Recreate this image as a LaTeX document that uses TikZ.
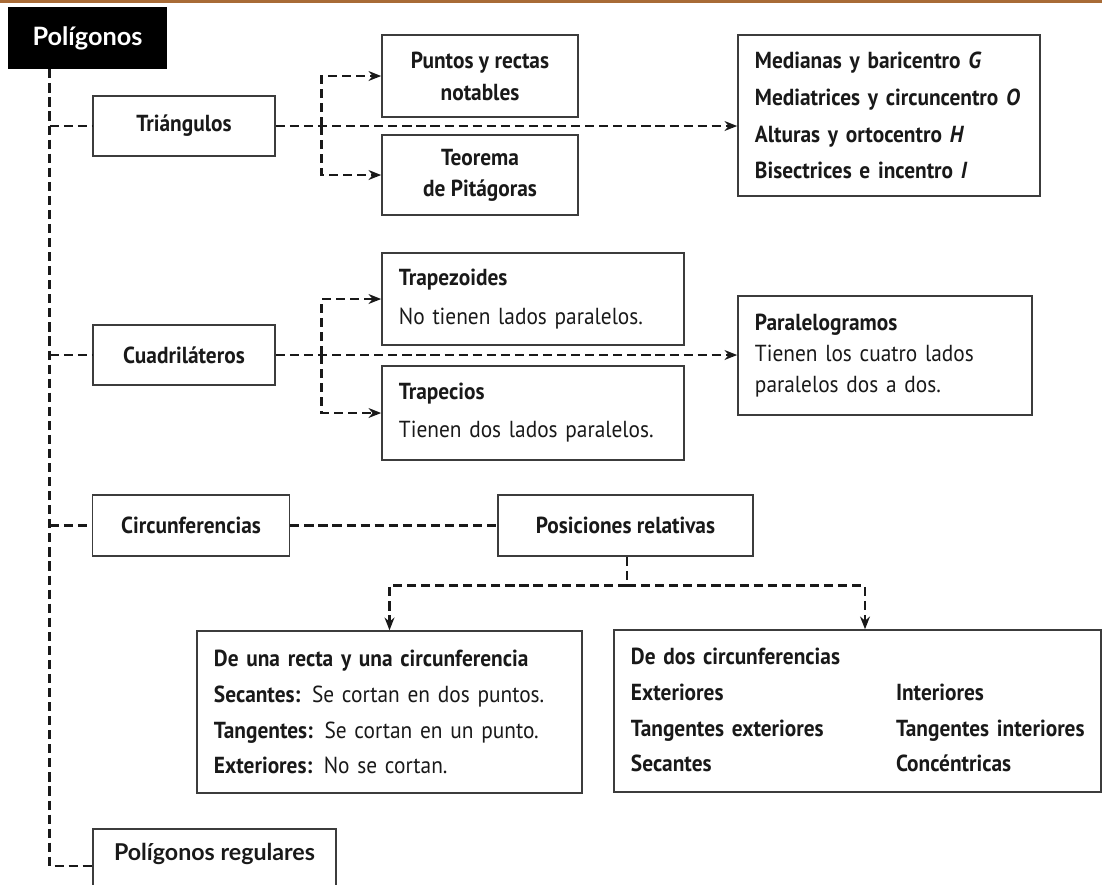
\documentclass[tikz,border=0pt]{standalone}
\usepackage{fontspec}
\setmainfont{PT Sans}[FakeStretch=0.92]
\newfontfamily\latofont{Lato}
\usetikzlibrary{arrows.meta,calc}
\definecolor{banda}{RGB}{168,107,54}
\definecolor{borde}{RGB}{60,60,60}
\definecolor{texto}{RGB}{25,25,25}
\newcommand{\letra}[1]{\fontsize{16.5}{#1}\selectfont}

\begin{document}
\begin{tikzpicture}[x=0.025cm, y=-0.025cm,
  caja/.style={draw=borde, line width=1.1pt, fill=white, text=texto, inner sep=0pt, align=center, font=\letra{20}\bfseries},
  bloque/.style={caja, minimum width=4.55cm, minimum height=1.5cm},
  cajatexto/.style={caja, align=left, inner xsep=0.425cm},
  titulo/.style={fill=black, text=white, inner sep=0pt, minimum width=3.975cm, minimum height=1.55cm, font=\latofont\bfseries\fontsize{18}{20}\selectfont},
  linea/.style={draw=black!90, line width=2pt, dash pattern=on 6.5pt off 3.5pt},
  flecha/.style={linea, -{Stealth[length=9pt,width=7pt]}}]
\fill[white] (0,0) rectangle (1102,884);
\useasboundingbox (0,0) rectangle (1102,884);
\fill[banda] (0,0) rectangle (1102,3);

\node[titulo] at (87.5,38) (poli) {Polígonos};

% triangulos
\node[bloque] at (184,126) (tri) {Triángulos};
\node[caja, font=\letra{22.7}\bfseries, minimum width=4.9cm, minimum height=2.05cm] at (480,76) (puntos) {Puntos y rectas\\notables};
\node[caja, font=\letra{22}\bfseries, minimum width=4.9cm, minimum height=2cm] at (480,175) (teorema) {Teorema\\de Pitágoras};
\node[cajatexto, text width=6.7cm, minimum height=4.025cm, font=\letra{26.2}\bfseries] at (889,115.5) (medianas) {Medianas y baricentro \textit{G}\\Mediatrices y circuncentro \textit{O}\\Alturas y ortocentro \textit{H}\\Bisectrices e incentro \textit{I}};

% cuadrilateros
\node[bloque] at (184,355) (cuad) {Cuadriláteros};
\node[cajatexto, text width=6.7cm, minimum height=2.3cm, font=\letra{27.6}] at (533,299) (trapezoides) {\textbf{Trapezoides}\\No tienen lados paralelos.};
\node[cajatexto, text width=6.7cm, minimum height=2.35cm, font=\letra{27}] at (533,413) (trapecios) {\textbf{Trapecios}\\Tienen dos lados paralelos.};
\node[cajatexto, text width=6.5cm, minimum height=2.975cm, font=\letra{22.3}] at (885,355.5) (paral) {\textbf{Paralelogramos}\\Tienen los cuatro lados\\paralelos dos a dos.};

% circunferencias
\node[caja, minimum width=4.925cm, minimum height=1.525cm] at (191,525.5) (circ) {Circunferencias};
\node[caja, minimum width=6.375cm, minimum height=1.525cm] at (625.5,525.5) (posic) {Posiciones relativas};
\node[cajatexto, text width=8.775cm, minimum height=4.05cm, font=\letra{25.5}] at (389.5,712) (recta) {\textbf{De una recta y una circunferencia}\\\textbf{Secantes:} Se cortan en dos puntos.\\\textbf{Tangentes:} Se cortan en un punto.\\\textbf{Exteriores:} No se cortan.};
\node[cajatexto, text width=11.325cm, minimum height=4.05cm, font=\letra{25.5}\bfseries] at (857.5,711) (dos) {\begin{tabular}{@{}p{6.625cm}@{}l@{}}
\multicolumn{2}{@{}l@{}}{De dos circunferencias}\\
Exteriores & Interiores\\
Tangentes exteriores & Tangentes interiores\\
Secantes & Concéntricas
\end{tabular}};

\node[caja, anchor=north, font=\latofont\bfseries\fontsize{16.5}{20}\selectfont, minimum width=6.075cm, text height=0.8cm, text depth=1.3cm] at (214.5,828) (regulares) {Polígonos regulares};

% conectores
\coordinate (tronco) at ($(poli.south west)+(42,0)$);
\draw[linea] (tronco) |- ($(regulares.north west)+(0,38)$);
\draw[linea] (tronco |- tri.west) -- (tri.west);
\draw[linea] (tronco |- cuad.west) -- (cuad.west);
\draw[linea] (tronco |- circ.west) -- (circ.west);

\coordinate (ramaT) at ($(tri.east)+(46,0)$);
\draw[flecha] (tri.east) -- (tri.east -| medianas.west);
\draw[flecha] (ramaT) |- (puntos.west);
\draw[flecha] (ramaT) |- (teorema.west);

\coordinate (ramaC) at ($(cuad.east)+(46,0)$);
\draw[flecha] (cuad.east) -- (cuad.east -| paral.west);
\draw[flecha] (ramaC) |- (trapezoides.west);
\draw[flecha] (ramaC) |- (trapecios.west);

\draw[linea] (circ.east) -- (posic.west);
\draw[linea] ($(posic.south)+(1.5,0)$) -- ++(0,29) coordinate (ramaP);
\draw[flecha] (ramaP) -| (recta.north);
\draw[flecha] (ramaP) -| ($(dos.north)+(7.5,0)$);
\end{tikzpicture}
\end{document}
